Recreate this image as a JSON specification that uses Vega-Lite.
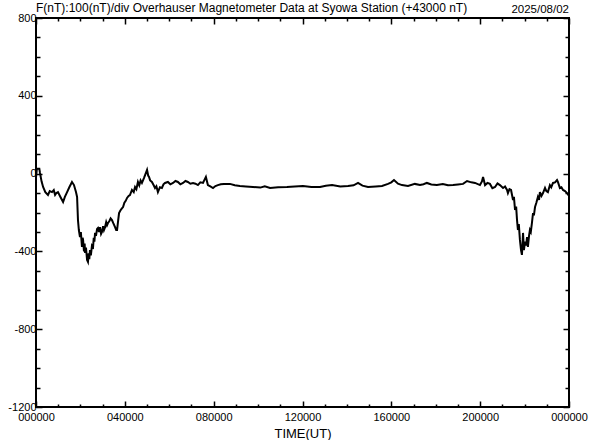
{
  "$schema": "https://vega.github.io/schema/vega-lite/v6.json",
  "width": 533,
  "height": 389,
  "autosize": "none",
  "padding": {"left": 36, "top": 18, "right": 23, "bottom": 33},
  "background": "white",
  "config": {
    "view": {"stroke": "black", "strokeWidth": 2},
    "axis": {"domain": false, "grid": false, "labelFont": "Liberation Sans", "labelFontSize": 11, "labelColor": "black", "tickColor": "black", "tickWidth": 1.5, "labelOverlap": false, "labelFlush": false, "titleFont": "Liberation Sans", "titleFontWeight": "normal", "titleColor": "black"}
  },
  "datasets": {
    "head": [{"t": 0, "f": 800, "txt": "F(nT):100(nT)/div  Overhauser Magnetometer Data at Syowa Station (+43000 nT)"}],
    "date": [{"t": 24, "f": 800, "txt": "2025/08/02"}]
  },
  "data": {"values": [
    {"t": 0.0, "f": -20}, {"t": 0.04, "f": 25}, {"t": 0.15, "f": 25}, {"t": 0.18, "f": 3}, {"t": 0.25, "f": -40}, {"t": 0.32, "f": -69},
    {"t": 0.42, "f": -95}, {"t": 0.54, "f": -110}, {"t": 0.62, "f": -90}, {"t": 0.72, "f": -95}, {"t": 0.80, "f": -85}, {"t": 0.86, "f": -110},
    {"t": 0.92, "f": -100}, {"t": 0.99, "f": -95}, {"t": 1.10, "f": -120}, {"t": 1.22, "f": -146}, {"t": 1.30, "f": -120}, {"t": 1.40, "f": -95},
    {"t": 1.50, "f": -70}, {"t": 1.62, "f": -43}, {"t": 1.71, "f": -59}, {"t": 1.80, "f": -95}, {"t": 1.85, "f": -120}, {"t": 1.89, "f": -239},
    {"t": 1.93, "f": -290}, {"t": 1.98, "f": -326}, {"t": 2.02, "f": -300}, {"t": 2.07, "f": -377}, {"t": 2.10, "f": -330}, {"t": 2.12, "f": -341},
    {"t": 2.16, "f": -400}, {"t": 2.19, "f": -360}, {"t": 2.21, "f": -408}, {"t": 2.25, "f": -380}, {"t": 2.30, "f": -444}, {"t": 2.34, "f": -454},
    {"t": 2.37, "f": -410}, {"t": 2.40, "f": -440}, {"t": 2.43, "f": -393}, {"t": 2.47, "f": -420}, {"t": 2.52, "f": -370}, {"t": 2.57, "f": -377},
    {"t": 2.60, "f": -330}, {"t": 2.63, "f": -350}, {"t": 2.66, "f": -305}, {"t": 2.70, "f": -320}, {"t": 2.75, "f": -285}, {"t": 2.79, "f": -280},
    {"t": 2.84, "f": -300}, {"t": 2.88, "f": -275}, {"t": 2.93, "f": -310}, {"t": 2.97, "f": -300}, {"t": 3.02, "f": -270}, {"t": 3.06, "f": -290},
    {"t": 3.11, "f": -275}, {"t": 3.16, "f": -250}, {"t": 3.20, "f": -265}, {"t": 3.24, "f": -254}, {"t": 3.30, "f": -245}, {"t": 3.36, "f": -230},
    {"t": 3.42, "f": -239}, {"t": 3.48, "f": -255}, {"t": 3.56, "f": -275}, {"t": 3.61, "f": -290}, {"t": 3.65, "f": -290}, {"t": 3.70, "f": -240},
    {"t": 3.74, "f": -203}, {"t": 3.80, "f": -190}, {"t": 3.86, "f": -180}, {"t": 3.92, "f": -172}, {"t": 3.98, "f": -150}, {"t": 4.04, "f": -140},
    {"t": 4.10, "f": -125}, {"t": 4.17, "f": -115}, {"t": 4.23, "f": -110}, {"t": 4.32, "f": -84}, {"t": 4.40, "f": -95}, {"t": 4.46, "f": -69},
    {"t": 4.52, "f": -80}, {"t": 4.59, "f": -43}, {"t": 4.65, "f": -60}, {"t": 4.71, "f": -35}, {"t": 4.77, "f": -48}, {"t": 4.86, "f": -23},
    {"t": 4.92, "f": -5}, {"t": 5.00, "f": 19}, {"t": 5.05, "f": -10}, {"t": 5.09, "f": -17}, {"t": 5.14, "f": -35}, {"t": 5.22, "f": -43},
    {"t": 5.30, "f": -60}, {"t": 5.36, "f": -74}, {"t": 5.42, "f": -65}, {"t": 5.49, "f": -95}, {"t": 5.58, "f": -70}, {"t": 5.67, "f": -74},
    {"t": 5.74, "f": -55}, {"t": 5.81, "f": -48}, {"t": 5.94, "f": -43}, {"t": 6.05, "f": -55}, {"t": 6.17, "f": -48}, {"t": 6.28, "f": -38},
    {"t": 6.39, "f": -43}, {"t": 6.50, "f": -55}, {"t": 6.62, "f": -48}, {"t": 6.73, "f": -38}, {"t": 6.84, "f": -43}, {"t": 6.95, "f": -52},
    {"t": 7.07, "f": -48}, {"t": 7.18, "f": -52}, {"t": 7.29, "f": -59}, {"t": 7.40, "f": -45}, {"t": 7.52, "f": -48}, {"t": 7.65, "f": -17},
    {"t": 7.74, "f": -59}, {"t": 7.85, "f": -66}, {"t": 7.97, "f": -74}, {"t": 8.08, "f": -64}, {"t": 8.19, "f": -59}, {"t": 8.32, "f": -55},
    {"t": 8.46, "f": -53}, {"t": 8.73, "f": -53}, {"t": 8.95, "f": -60}, {"t": 9.18, "f": -64}, {"t": 9.45, "f": -66}, {"t": 9.77, "f": -69},
    {"t": 10.10, "f": -72}, {"t": 10.30, "f": -65}, {"t": 10.54, "f": -74}, {"t": 10.90, "f": -70}, {"t": 11.30, "f": -69}, {"t": 11.65, "f": -66},
    {"t": 12.02, "f": -64}, {"t": 12.40, "f": -69}, {"t": 12.79, "f": -69}, {"t": 13.05, "f": -62}, {"t": 13.33, "f": -59}, {"t": 13.70, "f": -66},
    {"t": 14.05, "f": -64}, {"t": 14.30, "f": -60}, {"t": 14.50, "f": -48}, {"t": 14.70, "f": -62}, {"t": 14.95, "f": -69}, {"t": 15.30, "f": -66},
    {"t": 15.58, "f": -64}, {"t": 15.85, "f": -53}, {"t": 16.00, "f": -45}, {"t": 16.12, "f": -33}, {"t": 16.30, "f": -52}, {"t": 16.48, "f": -59},
    {"t": 16.75, "f": -64}, {"t": 17.06, "f": -53}, {"t": 17.29, "f": -59}, {"t": 17.45, "f": -55}, {"t": 17.60, "f": -48}, {"t": 17.80, "f": -56},
    {"t": 18.05, "f": -59}, {"t": 18.32, "f": -53}, {"t": 18.55, "f": -60}, {"t": 18.78, "f": -59}, {"t": 19.00, "f": -56}, {"t": 19.23, "f": -53},
    {"t": 19.41, "f": -38}, {"t": 19.60, "f": -45}, {"t": 19.77, "f": -48}, {"t": 19.99, "f": -59}, {"t": 20.08, "f": -40}, {"t": 20.13, "f": -17},
    {"t": 20.22, "f": -59}, {"t": 20.33, "f": -48}, {"t": 20.44, "f": -53}, {"t": 20.55, "f": -75}, {"t": 20.67, "f": -69}, {"t": 20.78, "f": -50},
    {"t": 20.89, "f": -59}, {"t": 21.03, "f": -74}, {"t": 21.12, "f": -66}, {"t": 21.21, "f": -84}, {"t": 21.25, "f": -100}, {"t": 21.32, "f": -80},
    {"t": 21.39, "f": -84}, {"t": 21.48, "f": -136}, {"t": 21.52, "f": -120}, {"t": 21.57, "f": -187}, {"t": 21.62, "f": -170}, {"t": 21.66, "f": -239},
    {"t": 21.70, "f": -290}, {"t": 21.74, "f": -260}, {"t": 21.79, "f": -341}, {"t": 21.84, "f": -393}, {"t": 21.88, "f": -418}, {"t": 21.91, "f": -357},
    {"t": 21.93, "f": -305}, {"t": 21.97, "f": -393}, {"t": 22.02, "f": -350}, {"t": 22.07, "f": -370}, {"t": 22.11, "f": -326}, {"t": 22.15, "f": -377},
    {"t": 22.20, "f": -320}, {"t": 22.24, "f": -290}, {"t": 22.28, "f": -300}, {"t": 22.33, "f": -254}, {"t": 22.38, "f": -203}, {"t": 22.42, "f": -215},
    {"t": 22.47, "f": -172}, {"t": 22.53, "f": -150}, {"t": 22.60, "f": -120}, {"t": 22.65, "f": -135}, {"t": 22.69, "f": -95}, {"t": 22.76, "f": -115},
    {"t": 22.83, "f": -100}, {"t": 22.92, "f": -74}, {"t": 22.98, "f": -90}, {"t": 23.05, "f": -95}, {"t": 23.14, "f": -59}, {"t": 23.20, "f": -70},
    {"t": 23.28, "f": -48}, {"t": 23.37, "f": -45}, {"t": 23.46, "f": -33}, {"t": 23.50, "f": -43}, {"t": 23.59, "f": -74}, {"t": 23.66, "f": -70},
    {"t": 23.73, "f": -84}, {"t": 23.82, "f": -90}, {"t": 23.91, "f": -100}, {"t": 24.0, "f": -115}
  ]},
  "resolve": {"axis": {"x": "independent", "y": "independent"}},
  "layer": [
    {
      "mark": {"type": "line", "color": "black", "strokeWidth": 2, "clip": true},
      "encoding": {
        "x": {"field": "t", "type": "quantitative", "scale": {"domain": [0, 24], "nice": false, "zero": false},
          "axis": {"orient": "bottom", "title": "TIME(UT)", "titleFontSize": 13, "titlePadding": 2,
            "values": [0,1,2,3,4,5,6,7,8,9,10,11,12,13,14,15,16,17,18,19,20,21,22,23,24],
            "labelExpr": "datum.value % 4 === 0 ? ((datum.value === 0 || datum.value === 24) ? '000000' : (datum.value < 10 ? '0' : '') + datum.value + '0000') : ''",
            "tickSize": {"condition": {"test": "datum.value % 4 === 0", "value": -6}, "value": -3},
            "labelPadding": 10}},
        "y": {"field": "f", "type": "quantitative", "scale": {"domain": [-1200, 800], "nice": false, "zero": false},
          "axis": {"orient": "left", "title": null,
            "values": [-1200,-1100,-1000,-900,-800,-700,-600,-500,-400,-300,-200,-100,0,100,200,300,400,500,600,700,800],
            "labelExpr": "datum.value % 400 === 0 ? '' + datum.value : ''",
            "tickSize": {"condition": {"test": "datum.value % 400 === 0", "value": -6}, "value": -4},
            "labelPadding": 6}}
      }
    },
    {
      "data": {"name": "date"},
      "mark": {"type": "text", "align": "right", "baseline": "bottom", "dy": -3, "font": "Liberation Sans", "fontSize": 11.5, "color": "black", "clip": false},
      "encoding": {
        "text": {"field": "txt"},
        "x": {"field": "t", "type": "quantitative",
          "axis": {"orient": "top", "title": null, "labels": false,
            "values": [0,1,2,3,4,5,6,7,8,9,10,11,12,13,14,15,16,17,18,19,20,21,22,23,24],
            "tickSize": {"condition": {"test": "datum.value % 4 === 0", "value": -6}, "value": -3}}},
        "y": {"field": "f", "type": "quantitative",
          "axis": {"orient": "right", "title": null, "labels": false,
            "values": [-1200,-1100,-1000,-900,-800,-700,-600,-500,-400,-300,-200,-100,0,100,200,300,400,500,600,700,800],
            "tickSize": {"condition": {"test": "datum.value % 400 === 0", "value": -6}, "value": -4}}}
      }
    },
    {
      "data": {"name": "head"},
      "mark": {"type": "text", "align": "left", "baseline": "bottom", "dy": -3, "font": "Liberation Sans", "fontSize": 12, "color": "black", "clip": false},
      "encoding": {
        "text": {"field": "txt"},
        "x": {"field": "t", "type": "quantitative", "axis": null},
        "y": {"field": "f", "type": "quantitative", "axis": null}
      }
    }
  ]
}
